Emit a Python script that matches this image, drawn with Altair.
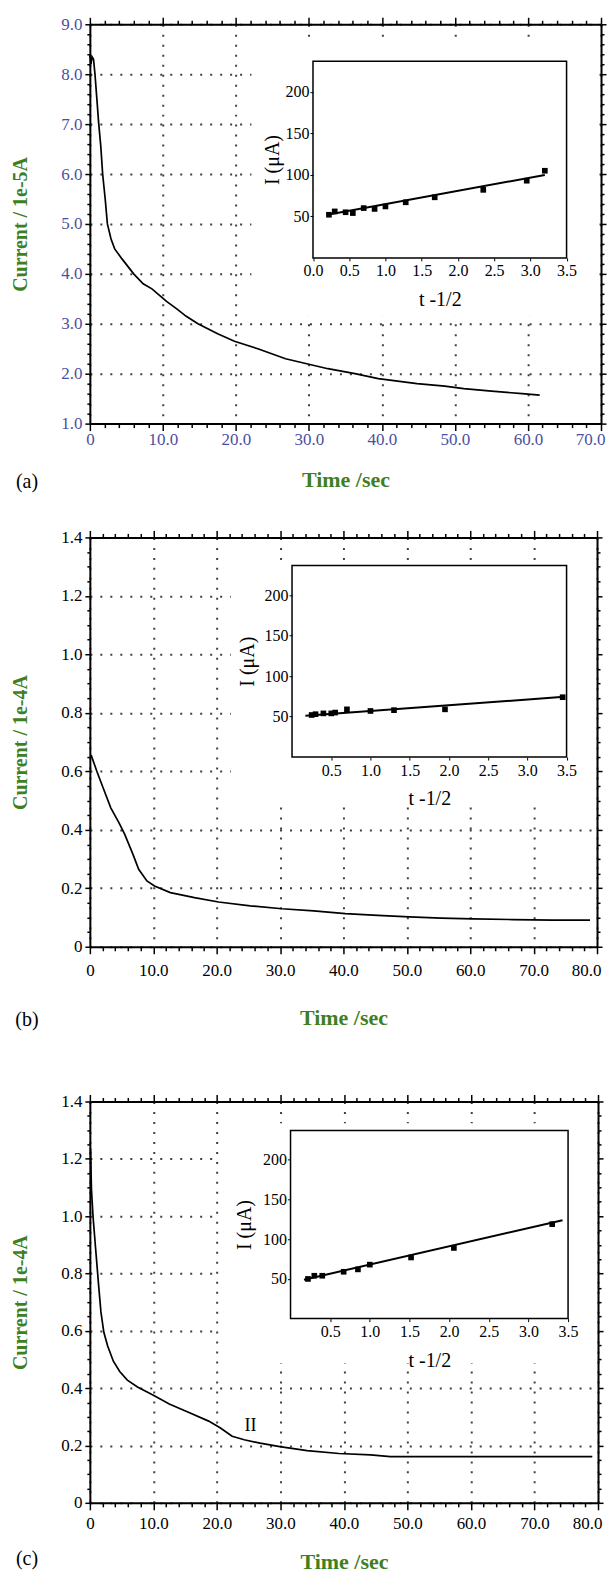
import altair as alt
import pandas as pd

# ---------------- data ----------------
# panel (a): chronoamperogram, current in 1e-5 A
t_a = [0.0, 0.15, 0.3, 0.5, 0.7, 0.96, 1.2, 1.5, 1.75, 2.1, 2.4, 2.9, 3.4, 4.4, 5.2,
       6.0, 7.3, 8.5, 9.7, 10.5, 11.9, 13.2, 14.8, 17.5, 19.8, 23.0, 26.8, 29.7, 32.6,
       36.3, 39.5, 44.8, 48.6, 51.2, 55.0, 59.2, 61.6]
i_a = [8.4, 8.2, 8.35, 8.3, 8.0, 7.5, 7.03, 6.55, 6.0, 5.5, 5.0, 4.7, 4.5, 4.3, 4.15,
       4.0, 3.8, 3.7, 3.55, 3.45, 3.3, 3.15, 3.0, 2.8, 2.65, 2.5, 2.3, 2.2, 2.1,
       2.0, 1.9, 1.8, 1.75, 1.7, 1.65, 1.6, 1.57]
# panel (a) inset
tx_a = [0.22, 0.3, 0.45, 0.55, 0.7, 0.85, 1.0, 1.28, 1.68, 2.35, 2.95, 3.2]
iy_a = [52, 56, 55, 54, 60, 59, 62, 67, 73, 82, 93, 105]
fitx_a = [0.2, 3.2]
fity_a = [52, 100]

# panel (b): current in 1e-4 A
t_b = [0.2, 1.1, 2.1, 3.3, 4.6, 5.5, 6.8, 7.7, 9.0, 10.2, 12.7, 16.5, 20.3, 25.3,
       30.3, 35.3, 40.3, 45.4, 50.4, 55.4, 60.4, 66.7, 73.0, 78.9]
i_b = [0.656, 0.6, 0.543, 0.475, 0.424, 0.384, 0.316, 0.265, 0.225, 0.208, 0.185,
       0.168, 0.153, 0.14, 0.13, 0.123, 0.113, 0.107, 0.102, 0.098, 0.095, 0.093,
       0.091, 0.091]
tx_b = [0.25, 0.3, 0.4, 0.5, 0.55, 0.7, 1.0, 1.3, 1.95, 3.45]
iy_b = [52, 53, 54, 54, 55, 59, 57, 58, 59, 74]
fitx_b = [0.17, 3.47]
fity_b = [51, 74.5]

# panel (c): current in 1e-4 A
t_c = [0.1, 0.25, 0.5, 0.93, 1.37, 1.74, 2.2, 2.8, 3.7, 4.7, 5.9, 7.5, 10.0, 12.5,
       15.6, 18.7, 20.5, 22.4, 24.3, 26.8, 29.9, 34.2, 39.2, 44.2, 47.3, 54.2, 66.6, 79.1]
i_c = [1.237, 1.094, 0.999, 0.88, 0.761, 0.666, 0.595, 0.547, 0.494, 0.458, 0.428,
       0.404, 0.375, 0.345, 0.315, 0.285, 0.262, 0.232, 0.22, 0.208, 0.196, 0.182,
       0.172, 0.167, 0.161, 0.161, 0.161, 0.161]
tx_c = [0.22, 0.3, 0.4, 0.67, 0.85, 1.0, 1.52, 2.06, 3.3]
iy_c = [50, 54, 54, 59, 62, 68, 77, 89, 119]
fitx_c = [0.17, 3.43]
fity_c = [49, 124]
note_c = {"t": [25.3], "i": [0.268], "txt": ["II"]}

# tick values
xticks_a = list(range(0, 71, 2))
yticks_a = [round(1 + 0.2 * k, 2) for k in range(41)]
xticks_bc = list(range(0, 81, 2))
yticks_bc = [round(0.05 * k, 2) for k in range(29)]
inset_x_a = [0.0, 0.5, 1.0, 1.5, 2.0, 2.5, 3.0, 3.5]
inset_x_bc = [0.5, 1.0, 1.5, 2.0, 2.5, 3.0, 3.5]
inset_y = [50, 100, 150, 200]
inset_dom_x = [0, 3.5]
inset_dom_y = [0, 237]

SERIF = "Liberation Serif"
GREEN = "#3f7f1f"
BLUE = "#4d4f9e"

XMAJ = "datum.value % 10 == 0"
XLAB = "datum.value == 0 ? '0' : (datum.value % 10 == 0 ? format(datum.value, '.1f') : '')"
YMAJ_A = "abs(datum.value - round(datum.value)) < 0.001"
YLAB_A = "(abs(datum.value - round(datum.value)) < 0.001) ? format(datum.value, '.1f') : ''"
YMAJ_BC = "abs(datum.value * 5 - round(datum.value * 5)) < 0.001"
YLAB_BC = ("datum.value == 0 ? '0' : ((abs(datum.value * 5 - round(datum.value * 5)) < 0.001)"
           " ? format(datum.value, '.1f') : '')")


def cond(test, a, b):
    return {"condition": {"test": test, "value": a}, "value": b}


def make_panel(p):
    W, H = p["W"], p["H"]
    main_df = pd.DataFrame({"t": p["t"], "i": p["i"]})
    one = pd.DataFrame({"bx0": [inset_dom_x[0]], "bx1": [inset_dom_x[1]],
                        "by0": [inset_dom_y[0]], "by1": [inset_dom_y[1]]})
    mask_df = pd.DataFrame({"bx0": [p["mask"][0]], "bx1": [p["mask"][1]],
                            "by0": [p["mask"][2]], "by1": [p["mask"][3]]})
    xs = alt.Scale(domain=p["xdom"], nice=False, zero=False)
    ys = alt.Scale(domain=p["ydom"], nice=False, zero=False)

    xaxis = alt.Axis(orient="bottom", values=p["xticks"], labelExpr=XLAB,
                     tickSize=cond(XMAJ, 7, 4), tickColor="black", tickWidth=1.5,
                     domainColor="black", domainWidth=2,
                     grid=True, gridDash=[2, 8], gridColor="black", gridWidth=2,
                     gridOpacity=cond(XMAJ, 0.75, 0),
                     labelFont=SERIF, labelFontSize=17, labelColor=p["lc"],
                     labelPadding=p["xlp"], labelOverlap=False,
                     labelFlush=True, labelFlushOffset=4,
                     title="Time /sec", titleFont=SERIF, titleFontSize=22,
                     titleFontWeight="bold", titleColor=GREEN, titlePadding=p["xtp"])
    yaxis = alt.Axis(orient="left", values=p["yticks"], labelExpr=p["ylab"],
                     tickSize=cond(p["ymaj"], 5, 3), tickColor="black", tickWidth=1.5,
                     domainColor="black", domainWidth=2,
                     grid=True, gridDash=[2, 8], gridColor="black", gridWidth=2,
                     gridOpacity=cond(p["ymaj"], 0.75, 0),
                     labelFont=SERIF, labelFontSize=17, labelColor=p["lc"], labelPadding=3,
                     labelOverlap=False, labelFlush=False,
                     title=p["ytitle"], titleFont=SERIF, titleFontSize=20,
                     titleFontWeight="bold", titleColor=GREEN, titlePadding=30)

    line = alt.Chart(main_df).mark_line(color="black", strokeWidth=1.7).encode(
        x=alt.X("t:Q", scale=xs, axis=xaxis),
        y=alt.Y("i:Q", scale=ys, axis=yaxis),
    )
    main_layers = [line]
    if p.get("note") is not None:
        note = alt.Chart(pd.DataFrame(p["note"])).mark_text(
            font=SERIF, fontSize=18, color="black").encode(
            x=alt.X("t:Q", scale=xs, axis=xaxis),
            y=alt.Y("i:Q", scale=ys, axis=yaxis),
            text="txt:N")
        main_layers.append(note)
    main = alt.layer(*main_layers)

    frame = alt.Chart(main_df).mark_point(opacity=0).encode(
        x=alt.X("t:Q", scale=xs, axis=alt.Axis(
            orient="top", values=p["xticks"], labels=False, title=None, grid=False,
            tickSize=cond(XMAJ, 7, 4), tickColor="black", tickWidth=1.5,
            domainColor="black", domainWidth=2)),
        y=alt.Y("i:Q", scale=ys, axis=alt.Axis(
            orient="right", values=p["yticks"], labels=False, title=None, grid=False,
            tickSize=cond(p["ymaj"], 5, 3), tickColor="black", tickWidth=1.5,
            domainColor="black", domainWidth=2)),
    )

    ixs = alt.Scale(domain=inset_dom_x, range=p["ix"], nice=False, zero=False)
    iys = alt.Scale(domain=inset_dom_y, range=p["iy"], nice=False, zero=False)
    ixaxis = alt.Axis(orient="bottom", offset=-(H - p["iy"][0]), values=p["ixvals"],
                      format=".1f", grid=False, domain=False, tickSize=3,
                      tickColor="black", labelFont=SERIF, labelFontSize=16,
                      labelColor="black", labelPadding=2, labelOverlap=False,
                      labelFlush=False, zindex=1,
                      title="t -1/2", titleFont=SERIF, titleFontSize=20,
                      titleFontWeight="normal", titleColor="black", titlePadding=11)
    iyaxis = alt.Axis(orient="left", offset=-p["ix"][0], values=inset_y, format="d",
                      grid=False, domain=False, tickSize=3, tickColor="black",
                      labelFont=SERIF, labelFontSize=16, labelColor="black",
                      labelPadding=1, labelOverlap=False, labelFlush=False, zindex=1,
                      title="I (μA)", titleFont=SERIF, titleFontSize=20,
                      titleFontWeight="normal", titleColor="black",
                      titlePadding=p["iytp"])

    mask = alt.Chart(mask_df).mark_rect(fill="white", strokeWidth=0).encode(
        x=alt.X("bx0:Q", scale=ixs, axis=ixaxis), x2="bx1:Q",
        y=alt.Y("by0:Q", scale=iys, axis=iyaxis), y2="by1:Q")
    box = alt.Chart(one).mark_rect(fill="white", stroke="black", strokeWidth=1.5).encode(
        x=alt.X("bx0:Q", scale=ixs, axis=ixaxis), x2="bx1:Q",
        y=alt.Y("by0:Q", scale=iys, axis=iyaxis), y2="by1:Q")
    fit = alt.Chart(pd.DataFrame({"bx0": p["fitx"], "by0": p["fity"]})).mark_line(
        color="black", strokeWidth=2).encode(
        x=alt.X("bx0:Q", scale=ixs, axis=ixaxis),
        y=alt.Y("by0:Q", scale=iys, axis=iyaxis))
    pts = alt.Chart(pd.DataFrame({"bx0": p["tx"], "by0": p["iy_pts"]})).mark_square(
        color="black", size=32, opacity=1).encode(
        x=alt.X("bx0:Q", scale=ixs, axis=ixaxis),
        y=alt.Y("by0:Q", scale=iys, axis=iyaxis))
    inset = alt.layer(mask, box, fit, pts)

    tag = alt.Chart(one).mark_text(text=p["tag"], font=SERIF, fontSize=20,
                                   color="black").encode(
        x=alt.value(-63), y=alt.value(H + p["tagdy"]))

    return alt.layer(main, frame, inset, tag).resolve_scale(
        x="independent", y="independent").properties(width=W, height=H)


pa = make_panel(dict(W=512, H=400, t=t_a, i=i_a, xdom=[0, 70], ydom=[1, 9],
                     xticks=xticks_a, yticks=yticks_a, ymaj=YMAJ_A, ylab=YLAB_A,
                     lc=BLUE, ytitle="Current / 1e-5A", xlp=1, xtp=22,
                     ix=[223.5, 477.5], iy=[234, 37], ixvals=inset_x_a, iytp=3,
                     mask=[-0.85, 3.94, -71, 266],
                     tx=tx_a, iy_pts=iy_a, fitx=fitx_a, fity=fity_a,
                     tag="(a)", tagdy=58))
pb = make_panel(dict(W=508, H=410, t=t_b, i=i_b, xdom=[0, 80], ydom=[0, 1.4],
                     xticks=xticks_bc, yticks=yticks_bc, ymaj=YMAJ_BC, ylab=YLAB_BC,
                     lc="black", ytitle="Current / 1e-4A", xlp=9, xtp=29,
                     ix=[202.5, 477.5], iy=[220, 28], ixvals=inset_x_bc, iytp=7,
                     mask=[-0.78, 3.84, -59, 243],
                     tx=tx_b, iy_pts=iy_b, fitx=fitx_b, fity=fity_b,
                     tag="(b)", tagdy=73))
pc = make_panel(dict(W=509, H=402, t=t_c, i=i_c, xdom=[0, 80], ydom=[0, 1.4],
                     xticks=xticks_bc, yticks=yticks_bc, ymaj=YMAJ_BC, ylab=YLAB_BC,
                     lc="black", ytitle="Current / 1e-4A", xlp=6, xtp=20,
                     ix=[201, 479], iy=[217.5, 29], ixvals=inset_x_bc, iytp=8,
                     mask=[-0.9, 3.86, -56, 246],
                     tx=tx_c, iy_pts=iy_c, fitx=fitx_c, fity=fity_c,
                     note=note_c, tag="(c)", tagdy=56))

top = alt.vconcat(pa, pb, spacing=35)
chart = alt.vconcat(top, pc, spacing=61).properties(
    padding={"left": 2, "top": 5, "right": 0, "bottom": 0}
).configure_view(stroke="black", strokeWidth=2).configure(background="white")

chart.save("out.html", embed_options={"renderer": "svg", "actions": False})
